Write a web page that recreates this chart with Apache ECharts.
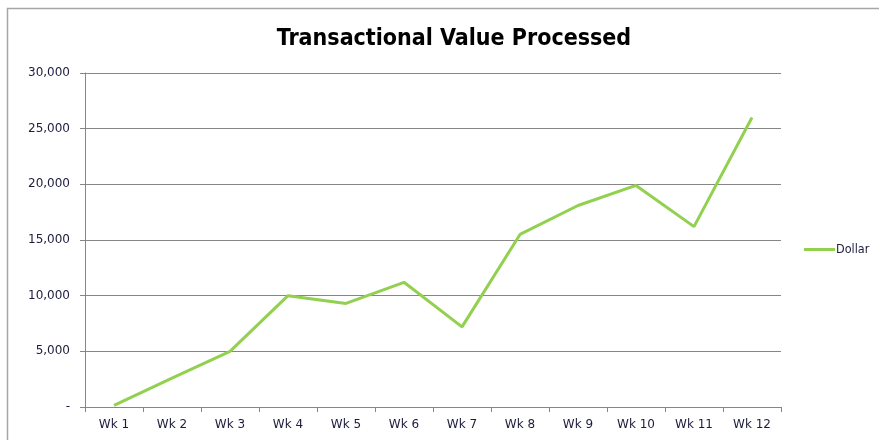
<!DOCTYPE html>
<html><head><meta charset="utf-8">
<script src="https://cdn.jsdelivr.net/npm/echarts@6/dist/echarts.min.js"></script>
<style>html,body{margin:0;padding:0;background:#fff}#c{width:879px;height:440px}</style>
</head><body><div id="c"></div>
<script>
const title = 'Transactional Value Processed';
const categories = ['Wk 1','Wk 2','Wk 3','Wk 4','Wk 5','Wk 6','Wk 7','Wk 8','Wk 9','Wk 10','Wk 11','Wk 12'];
const seriesName = 'Dollar';
const dollarValues = [150, 2600, 5000, 10000, 9300, 11200, 7200, 15500, 18100, 19900, 16200, 26000];
const yTicks = [0, 5000, 10000, 15000, 20000, 25000, 30000];

const chart = echarts.init(document.getElementById('c'), null, {renderer:'canvas'});
const labelColor = '#1c1c3c';
const labelFont = 'DejaVu Sans, Liberation Sans';
const fmt = v => v === 0 ? '-' : v.toLocaleString('en-US');
chart.setOption({
  animation:false,
  backgroundColor:'#fff',
  graphic:[{type:'rect', shape:{x:7.5,y:8.5,width:900,height:460}, style:{fill:'none',stroke:'#a6a6a6',lineWidth:1.5}, silent:true, z:-10}],
  title:{text:title, left:449, textAlign:'center', top:23,
    textStyle:{fontFamily:'DejaVu Sans Condensed, Liberation Sans', fontWeight:'bold', fontSize:23, color:'#000'}},
  legend:{data:[{name:seriesName, icon:'rect'}], left:804, top:243, padding:0, itemWidth:31, itemHeight:3, itemGap:3,
    textStyle:{fontFamily:'DejaVu Sans Condensed, Liberation Sans', fontSize:12.5, color:labelColor, padding:[0,0,0,-4]}},
  grid:{left:85, right:98, top:73, bottom:33, containLabel:false},
  xAxis:{type:'category', data:categories, boundaryGap:true,
    axisLine:{lineStyle:{color:'#868686', width:1}},
    axisTick:{show:true, length:5, lineStyle:{color:'#868686'}},
    axisLabel:{color:labelColor, fontFamily:labelFont, fontSize:12, margin:12}},
  yAxis:{type:'value', min:yTicks[0], max:yTicks[yTicks.length-1], interval:yTicks[1]-yTicks[0],
    axisLine:{show:true, lineStyle:{color:'#868686'}},
    axisTick:{show:true, length:5, lineStyle:{color:'#868686'}},
    splitLine:{lineStyle:{color:'#868686', width:1}},
    axisLabel:{color:labelColor, fontFamily:labelFont, fontSize:12, margin:15, formatter:fmt}},
  series:[{name:seriesName, type:'line', data:dollarValues, showSymbol:false, symbol:'none',
    lineStyle:{color:'#92d050', width:3}, itemStyle:{color:'#92d050'}}]
});
</script></body></html>
